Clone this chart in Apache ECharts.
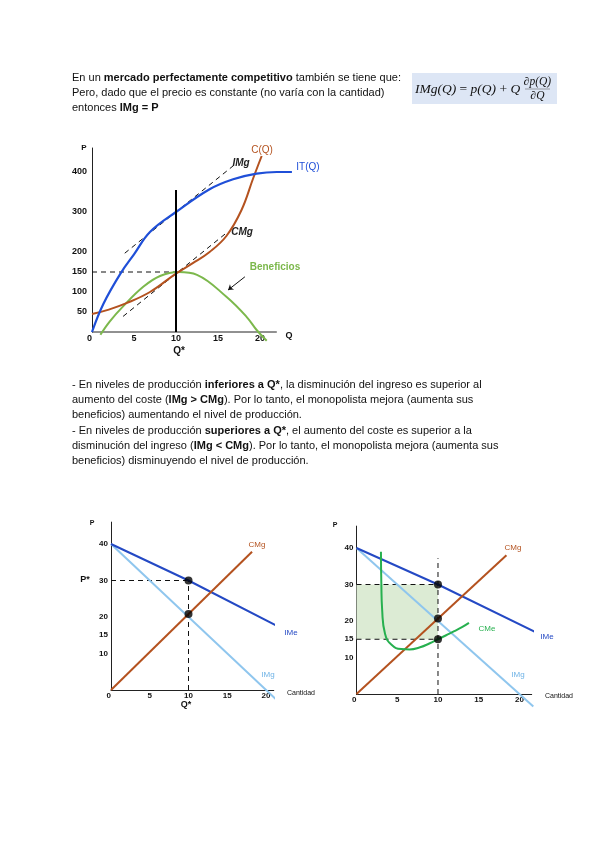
<!DOCTYPE html>
<html><head><meta charset="utf-8">
<script src="https://cdn.jsdelivr.net/npm/echarts@6/dist/echarts.min.js"></script>
<style>html,body{margin:0;padding:0;background:#fff}#c{width:600px;height:848px}</style>
</head><body><div id="c"></div>
<script>
// ---------- Chart 1 (top) data ----------
const itQ = [[0,0],[1.35,70],[3.45,148],[5,194],[6.9,250],[10,300],[14,357],[16.8,382],[19.6,396],[22,400],[23.8,400]];
const costQ = [[0,45],[2,56],[4.1,72],[6.9,100],[10,146],[12,172],[14,200],[16,240],[17.8,305],[19.2,385],[20.2,440]];
const beneficios = [[1,-7],[2.1,26],[3.7,64],[6.1,113],[8.1,140],[10.3,150],[12.5,143],[16,88],[18.4,38],[19.6,5],[20.8,-22]];
const imgTangent = [[3.9,197],[17.2,422]];
const cmgTangent = [[3.7,39],[16.2,251]];
const qStarLine1 = [[10,0],[10,355]];
const profitLevel = [[0,150],[10,150]];
const qAxisLine1 = [[0,0],[22,0]];
const arrowCoords = [[18.2,138],[16.2,105]];
const yTicks1 = [50,100,150,200,300,400];
const xTicks = [0,5,10,15,20];

// ---------- Chart 2 (bottom left) data ----------
const ime2 = [[0,40],[10,30],[21.5,17.5]];
const img2 = [[0,40],[21.6,-3.2]];
const cmg2 = [[0,0],[18.2,37.9]];
const dots2 = [[10,30],[10,20.8]];
const hDash2 = [[0,30],[10,30]];
const vDash2 = [[10,0],[10,30]];
const yTicks23 = [10,15,20,30,40];

// ---------- Chart 3 (bottom right) data ----------
const ime3 = [[0,40],[10,30],[21.9,17]];
const img3 = [[0,40],[21.7,-3.4]];
const cmg3 = [[0,0],[18.4,38]];
const cme3 = [[3.0,39],[3.05,30],[3.15,23],[3.5,16.5],[4.3,13.5],[5.5,12.3],[6.5,12.2],[7.8,12.8],[9,13.9],[10,15],[11,16.1],[12,17.2],[13,18.4],[13.8,19.5]];
const dots3 = [[10,30],[10,20.7],[10,15]];
const hDash3a = [[0,30],[10,30]];
const hDash3b = [[0,15],[10,15]];
const vDash3 = [[10,0],[10,37.2]];
const profitArea = [[0,30],[10,15]];

const BLUE = '#1f4fd8', BROWN = '#b4521f', LGREEN = '#7cb84c', GREEN = '#27b04f', DBLUE = '#2449c4', LBLUE = '#8fc6ee', SHADE = '#dcebd4';
const FONT = 'Liberation Sans, Arial, sans-serif';
const SERIF = 'Liberation Serif, serif';

function yAxis(gi, max, ticks, fs, margin){
  return {type:'value', gridIndex:gi, min:0, max:max, interval: gi===0?50:5,
    axisLine:{show:true, lineStyle:{color:'#222', width:1}}, axisTick:{show:false}, splitLine:{show:false},
    axisLabel:{fontFamily:FONT, fontWeight:'bold', fontSize:fs, color:'#111', margin:margin,
      formatter: v => ticks.indexOf(v) >= 0 ? String(v) : ''}};
}
function xAxis(gi, max, fs, showLine){
  return {type:'value', gridIndex:gi, min:0, max:max, interval:5,
    axisLine:{show:showLine, onZero:false, lineStyle:{color:'#222', width:1}}, axisTick:{show:false}, splitLine:{show:false},
    axisLabel:{fontFamily:FONT, fontWeight:'bold', fontSize:fs, color:'#111', margin:2, alignMinLabel:'right',
      formatter: v => xTicks.indexOf(v) >= 0 ? String(v) : ''}};
}
function line(gi, data, color, width, opts){
  return Object.assign({type:'line', xAxisIndex:gi, yAxisIndex:gi, data:data, symbol:'none', clip:false, silent:true,
    lineStyle:{color:color, width:width}}, opts||{});
}
function dashed(gi, data, width){
  return line(gi, data, '#111', width||1, {lineStyle:{color:'#111', width:width||1, type:[5,4]}});
}
function dots(gi, data){
  return {type:'scatter', xAxisIndex:gi, yAxisIndex:gi, data:data, symbolSize:8, itemStyle:{color:'#000'}, silent:true, z:5};
}

function txt(x, y, text, opt){
  return {type:'text', x:x, y:y, silent:true, style:Object.assign({text:text, fill:'#111', font:'11px '+FONT, textAlign:'left', textVerticalAlign:'middle'}, opt||{})};
}
const bodyRich = {b:{fontFamily:FONT, fontWeight:'bold', fontSize:11, fill:'#111'}};
function para(y, text){
  return {type:'text', x:72, y:y, silent:true, style:{text:text, fill:'#111', font:'11px '+FONT, textVerticalAlign:'middle', rich:bodyRich}};
}

const graphic = [
  para(78, 'En un {b|mercado perfectamente competitivo} también se tiene que:'),
  para(93, 'Pero, dado que el precio es constante (no varía con la cantidad)'),
  para(108, 'entonces {b|IMg = P}'),
  {type:'rect', shape:{x:412, y:73, width:145, height:31}, style:{fill:'#dde6f5'}, silent:true},
  {type:'text', x:415, y:89, silent:true, style:{text:'{i|IMg(Q)} = {i|p(Q)} + {i|Q}', font:'13.5px '+SERIF, fill:'#111', textVerticalAlign:'middle',
    rich:{i:{fontStyle:'italic', fontFamily:SERIF, fontSize:13.5, fill:'#111'}}}},
  txt(537.5, 82, '∂p(Q)', {font:'italic 11.5px '+SERIF, textAlign:'center'}),
  {type:'line', shape:{x1:525, y1:89, x2:550, y2:89}, style:{stroke:'#666', lineWidth:0.6}, silent:true},
  txt(537.5, 96, '∂Q', {font:'italic 11.5px '+SERIF, textAlign:'center'}),

  // chart 1 annotations
  txt(84, 148, 'P', {font:'bold 8px '+FONT, textAlign:'center'}),
  txt(289, 336, 'Q', {font:'bold 9px '+FONT, textAlign:'center'}),
  txt(262, 150, 'C(Q)', {font:'10px '+FONT, fill:BROWN, textAlign:'center'}),
  txt(308, 167, 'IT(Q)', {font:'10px '+FONT, fill:BLUE, textAlign:'center'}),
  txt(241, 163, 'IMg', {font:'italic bold 10px '+FONT, fill:'#222', textAlign:'center'}),
  txt(242, 232, 'CMg', {font:'italic bold 10px '+FONT, fill:'#222', textAlign:'center'}),
  txt(275, 267, 'Beneficios', {font:'bold 10px '+FONT, fill:LGREEN, textAlign:'center'}),
  txt(179, 351, 'Q*', {font:'bold 10px '+FONT, textAlign:'center'}),

  // middle text
  para(385, '- En niveles de producción {b|inferiores a Q*}, la disminución del ingreso es superior al'),
  para(400, 'aumento del coste ({b|IMg > CMg}). Por lo tanto, el monopolista mejora (aumenta sus'),
  para(415, 'beneficios) aumentando el nivel de producción.'),
  para(430.5, '- En niveles de producción {b|superiores a Q*}, el aumento del coste es superior a la'),
  para(446, 'disminución del ingreso ({b|IMg < CMg}). Por lo tanto, el monopolista mejora (aumenta sus'),
  para(461, 'beneficios) disminuyendo el nivel de producción.'),

  // chart 2 annotations
  txt(92, 523, 'P', {font:'bold 7px '+FONT, textAlign:'center'}),
  txt(85, 580, 'P*', {font:'bold 9px '+FONT, textAlign:'center'}),
  txt(257, 545, 'CMg', {font:'8px '+FONT, fill:BROWN, textAlign:'center'}),
  txt(291, 633, 'IMe', {font:'8px '+FONT, fill:DBLUE, textAlign:'center'}),
  txt(268, 675, 'IMg', {font:'8px '+FONT, fill:'#6fb3e6', textAlign:'center'}),
  txt(301, 693, 'Cantidad', {font:'7px '+FONT, textAlign:'center'}),
  txt(186, 705, 'Q*', {font:'bold 9px '+FONT, textAlign:'center'}),

  // chart 3 annotations
  txt(335, 525, 'P', {font:'bold 7px '+FONT, textAlign:'center'}),
  txt(513, 548, 'CMg', {font:'8px '+FONT, fill:BROWN, textAlign:'center'}),
  txt(547, 637, 'IMe', {font:'8px '+FONT, fill:DBLUE, textAlign:'center'}),
  txt(518, 675, 'IMg', {font:'8px '+FONT, fill:'#6fb3e6', textAlign:'center'}),
  txt(487, 629, 'CMe', {font:'8px '+FONT, fill:GREEN, textAlign:'center'}),
  txt(559, 696, 'Cantidad', {font:'7px '+FONT, textAlign:'center'}),
  txt(408, 613, 'Beneficios', {font:'bold 6px '+FONT, textAlign:'center'})
];

const option = {
  animation:false,
  backgroundColor:'#fff',
  grid:[
    {left:92, top:148, width:201.6, height:184},
    {left:111, top:522.1, width:162.75, height:167.9},
    {left:356.5, top:526.1, width:175.2, height:167.9}
  ],
  xAxis:[xAxis(0,24,9,false), xAxis(1,21,8,true), xAxis(2,21.5,8,true)],
  yAxis:[yAxis(0,460,yTicks1,9,5), yAxis(1,46,yTicks23,8,3), yAxis(2,46,yTicks23,8,3)],
  graphic: graphic,
  series:[
    // chart 1
    line(0, qAxisLine1, '#222', 1),
    dashed(0, imgTangent),
    dashed(0, cmgTangent),
    dashed(0, profitLevel),
    line(0, beneficios, LGREEN, 2, {smooth:0.4}),
    line(0, costQ, BROWN, 2, {smooth:0.4}),
    line(0, itQ, BLUE, 2.2, {smooth:0.4}),
    line(0, qStarLine1, '#000', 2),
    {type:'lines', coordinateSystem:'cartesian2d', xAxisIndex:0, yAxisIndex:0, silent:true,
      symbol:['none','arrow'], symbolSize:5,
      lineStyle:{color:'#111', width:1, opacity:1}, data:[{coords:arrowCoords}]},
    // chart 2
    dashed(1, hDash2), dashed(1, vDash2),
    line(1, img2, LBLUE, 2),
    line(1, ime2, DBLUE, 2),
    line(1, cmg2, BROWN, 2),
    dots(1, dots2),
    // chart 3
    {type:'line', xAxisIndex:2, yAxisIndex:2, data:[], silent:true,
      markArea:{silent:true, itemStyle:{color:SHADE}, data:[[{coord:profitArea[0]},{coord:profitArea[1]}]]}},
    dashed(2, hDash3a), dashed(2, hDash3b), dashed(2, vDash3),
    line(2, img3, LBLUE, 2),
    line(2, ime3, DBLUE, 2),
    line(2, cmg3, BROWN, 2),
    line(2, cme3, GREEN, 2, {smooth:0.5}),
    dots(2, dots3)
  ]
};
const chart = echarts.init(document.getElementById('c'), null, {renderer:'canvas'});
chart.setOption(option);
</script>
</body></html>
